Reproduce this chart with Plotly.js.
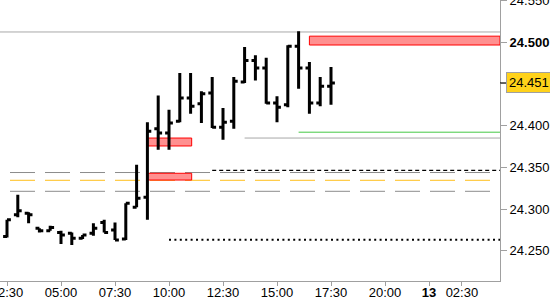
<!DOCTYPE html>
<html>
<head>
<meta charset="utf-8">
<script src="https://cdn.plot.ly/plotly-3.0.1.min.js"></script>
<style>
  html, body { margin: 0; padding: 0; background: #fff; }
  #chart { width: 550px; height: 300px; }
</style>
</head>
<body>
<div id="chart"></div>
<script>
// ---- Data ----
const barTimes = ["02:30","03:00","03:30","04:00","04:30","05:00","05:30","06:00","06:30","07:00",
                  "07:30","08:00","08:30","09:00","09:30","10:00","10:30","11:00","11:30","12:00",
                  "12:30","13:00","13:30","14:00","14:30","15:00","15:30","16:00","16:30","17:00","17:30"];
const opens  = [24.267,24.293,24.295,24.277,24.274,24.272,24.271,24.265,24.271,24.284,
                24.275,24.264,24.302,24.314,24.396,24.391,24.405,24.433,24.426,24.439,
                24.398,24.405,24.452,24.478,24.469,24.427,24.425,24.495,24.469,24.427,24.447];
const highs  = [24.287,24.317,24.296,24.277,24.280,24.274,24.272,24.269,24.283,24.287,
                24.284,24.307,24.353,24.404,24.436,24.419,24.463,24.463,24.441,24.458,
                24.421,24.458,24.494,24.484,24.481,24.435,24.496,24.513,24.476,24.458,24.470];
const lows   = [24.266,24.290,24.283,24.272,24.274,24.258,24.257,24.264,24.268,24.272,
                24.263,24.263,24.302,24.287,24.371,24.371,24.404,24.414,24.403,24.397,
                24.383,24.396,24.451,24.454,24.426,24.404,24.422,24.444,24.414,24.423,24.425];
const closes = [24.287,24.298,24.293,24.274,24.278,24.269,24.265,24.269,24.277,24.272,
                24.263,24.307,24.313,24.393,24.391,24.403,24.433,24.423,24.438,24.398,
                24.404,24.453,24.478,24.469,24.427,24.422,24.495,24.469,24.427,24.447,24.451];

const lastPrice = 24.451;

// x-axis labels (session axis, positions in hours on the chart's time scale)
const xTickLabels = ["02:30","05:00","07:30","10:00","12:30","15:00","17:30","20:00","<b>13</b>","02:30"];
const xTickHours  = [2.5, 5, 7.5, 10, 12.5, 15, 17.5, 20, 22.04, 23.56];

// y-axis labels
const yTickValues = [24.25, 24.30, 24.35, 24.40, 24.45, 24.50, 24.55];
const yTickLabels = ["24.250","24.300","24.350","24.400","","<b>24.500</b>","24.550"];

// Levels
const topLevel = 24.512;               // grey solid, full width
const supplyZone = [24.4964, 24.507];  // red zone, from 16:30
const zoneA = [24.3755, 24.385];       // red zone 09:00-11:00
const zoneB = [24.3347, 24.3428];      // red zone 09:00-11:00
const zoneTimes = ["09:00", "11:03"];
const greyLevel = 24.385;              // grey solid from 13:30
const greenLevel = 24.392;             // green from 16:00
const blackDashLevel = 24.3463;        // from 12:00
const dottedLevel = 24.2632;           // from 10:00
const bandUpper = 24.3437, bandMid = 24.3344, bandLower = 24.3212;

// ---- helpers ----
function toH(t) { const p = t.split(":"); return +p[0] + (+p[1]) / 60; }
const xs = barTimes.map(toH);
const xRange = [2.176, 25.324];
const yRange = [24.2138, 24.5503];

const trace = {
  type: "ohlc",
  x: xs, open: opens, high: highs, low: lows, close: closes,
  increasing: { line: { color: "#000000", width: 3 } },
  decreasing: { line: { color: "#000000", width: 3 } },
  tickwidth: 0.36,
  hoverinfo: "skip"
};

function hline(y, xFrom, color, width, dash) {
  return { type: "line", xref: "x", yref: "y", x0: xFrom, x1: xRange[1], y0: y, y1: y,
           line: { color: color, width: width, dash: dash || "solid" }, layer: "below" };
}
function bandLine(y, color) {
  return { type: "line", xref: "paper", yref: "y", x0: 0.02, x1: 0.98, y0: y, y1: y,
           line: { color: color, width: 1, dash: "25px,10px" }, layer: "below" };
}
function zone(x0, x1, yy) {
  return { type: "rect", xref: "x", yref: "y", x0: x0, x1: x1, y0: yy[0], y1: yy[1],
           fillcolor: "#ff9090", line: { color: "#ff0000", width: 1 }, layer: "below" };
}

const shapes = [
  { type: "line", xref: "paper", yref: "y", x0: 0, x1: 1, y0: topLevel, y1: topLevel,
    line: { color: "#a8a8a8", width: 1 }, layer: "below" },
  bandLine(bandUpper, "#8c8c8c"),
  bandLine(bandMid, "#ffbf1a"),
  bandLine(bandLower, "#8c8c8c"),
  zone(toH("16:30"), xRange[1], supplyZone),
  zone(toH(zoneTimes[0]), toH(zoneTimes[1]), zoneA),
  zone(toH(zoneTimes[0]), toH(zoneTimes[1]), zoneB),
  hline(greyLevel, toH("13:30"), "#a8a8a8", 1),
  hline(greenLevel, toH("16:00"), "#44c844", 1),
  hline(blackDashLevel, toH("12:00"), "#000000", 1.3, "4px,3px"),
  hline(dottedLevel, toH("10:00"), "#000000", 2, "2px,3.4px"),
  // price marker tick
  { type: "line", xref: "paper", yref: "y", x0: 1, x1: 1.013, y0: lastPrice, y1: lastPrice,
    line: { color: "#000000", width: 1 } }
];

const font = { family: "Liberation Sans, Arial, sans-serif", size: 13, color: "#000000" };

const layout = {
  width: 550, height: 300,
  margin: { l: 0, r: 50, t: 0, b: 19, pad: 0 },
  paper_bgcolor: "#ffffff", plot_bgcolor: "#ffffff",
  showlegend: false,
  font: font,
  xaxis: {
    range: xRange, tickmode: "array", tickvals: xTickHours, ticktext: xTickLabels,
    ticks: "outside", ticklen: 4, tickcolor: "#a0a0a0", tickwidth: 1,
    ticklabelstandoff: -5,
    showline: true, linecolor: "#a0a0a0", linewidth: 1,
    showgrid: false, zeroline: false, tickfont: font,
    rangeslider: { visible: false }, ticklabeloverflow: "allow", fixedrange: true
  },
  yaxis: {
    side: "right", range: yRange, tickmode: "array", tickvals: yTickValues, ticktext: yTickLabels,
    ticks: "outside", ticklen: 6, tickcolor: "#a0a0a0", tickwidth: 1,
    showline: true, linecolor: "#a0a0a0", linewidth: 1,
    showgrid: false, zeroline: false, tickfont: font,
    ticklabeloverflow: "allow", fixedrange: true
  },
  shapes: shapes,
  annotations: [{
    xref: "paper", yref: "y", x: 1, y: lastPrice, xanchor: "left", yanchor: "middle",
    xshift: 6, text: lastPrice.toFixed(3), showarrow: false,
    bgcolor: "#ffd21a", bordercolor: "#a0a0a0", borderwidth: 1, borderpad: 2,
    font: font
  }]
};

Plotly.newPlot("chart", [trace], layout, { staticPlot: true, displayModeBar: false });
</script>
</body>
</html>
